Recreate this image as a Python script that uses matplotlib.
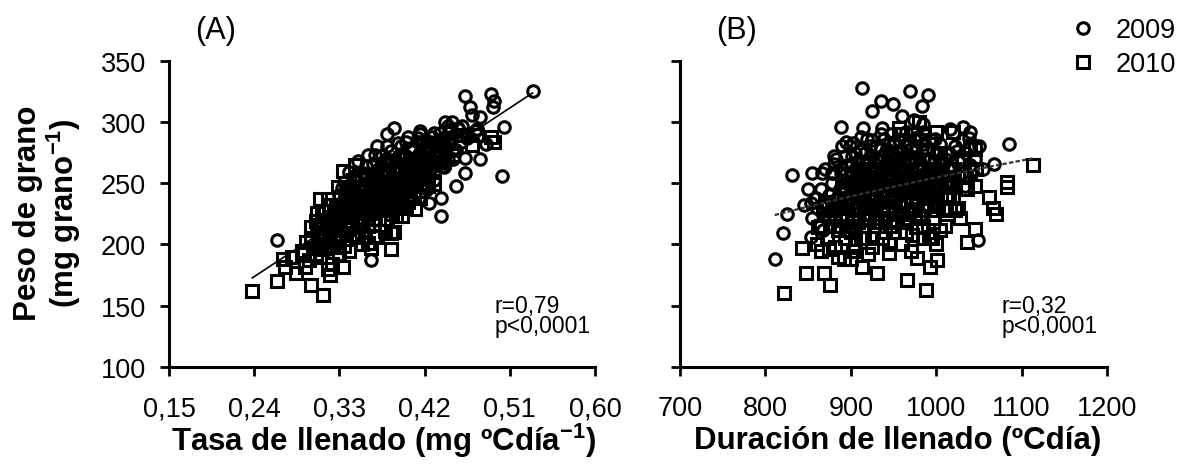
import numpy as np
import matplotlib
matplotlib.use('Agg')
import matplotlib.pyplot as plt

plt.rcParams['font.family'] = ['Liberation Sans', 'DejaVu Sans']
plt.rcParams['mathtext.fontset'] = 'custom'
plt.rcParams['mathtext.rm'] = 'Liberation Sans'
plt.rcParams['mathtext.bf'] = 'Liberation Sans:bold'

# (A) tasa de llenado (mg/ºCdía) vs peso de grano (mg)
tasa_peso_2009 = [
    (0.264, 204), (0.363, 187), (0.437, 223), (0.502, 256), (0.534, 325), (0.490, 323),
    (0.463, 321), (0.504, 296), (0.479, 304), (0.468, 312), (0.493, 317), (0.492, 312),
    (0.463, 271), (0.463, 258), (0.453, 248), (0.479, 270), (0.388, 295), (0.370, 280),
    (0.415, 293), (0.449, 300), (0.473, 293), (0.437, 238), (0.425, 234), (0.333, 246),
    (0.455, 295), (0.485, 282), (0.440, 285),
    (0.310, 205), (0.315, 220), (0.318, 196), (0.322, 212), (0.325, 227), (0.328, 204),
    (0.330, 240), (0.332, 225), (0.335, 237), (0.337, 216), (0.340, 248), (0.342, 230),
    (0.344, 207), (0.346, 240), (0.348, 257), (0.350, 222), (0.352, 236), (0.354, 248),
    (0.356, 211), (0.358, 264), (0.360, 229), (0.362, 244), (0.364, 256), (0.366, 220),
    (0.368, 273), (0.370, 238), (0.372, 252), (0.374, 264), (0.376, 228), (0.378, 245),
    (0.380, 280), (0.382, 258), (0.384, 240), (0.386, 269), (0.388, 230), (0.390, 251),
    (0.392, 283), (0.394, 261), (0.396, 244), (0.398, 273), (0.400, 255), (0.402, 288),
    (0.404, 236), (0.406, 267), (0.408, 278), (0.410, 249), (0.412, 262), (0.414, 274),
    (0.416, 284), (0.418, 255), (0.420, 269), (0.422, 245), (0.424, 281), (0.426, 262),
    (0.428, 288), (0.430, 259), (0.432, 281), (0.434, 271), (0.436, 291), (0.438, 264),
    (0.440, 279), (0.442, 300), (0.445, 269), (0.448, 287), (0.450, 278), (0.455, 294),
    (0.458, 284), (0.460, 297), (0.465, 287), (0.470, 306), (0.475, 294),
    (0.315, 206), (0.320, 223), (0.325, 199), (0.330, 216), (0.335, 251), (0.340, 218),
    (0.345, 231), (0.350, 245), (0.355, 228), (0.355, 258), (0.360, 221), (0.360, 251),
    (0.365, 238), (0.365, 266), (0.370, 226), (0.370, 261), (0.375, 250), (0.375, 273),
    (0.380, 234), (0.380, 258), (0.385, 245), (0.385, 276), (0.390, 237), (0.390, 263),
    (0.395, 252), (0.395, 280), (0.400, 242), (0.400, 272), (0.405, 260), (0.410, 271),
    (0.410, 242), (0.415, 263), (0.420, 254), (0.420, 280), (0.425, 269), (0.430, 253),
    (0.430, 291), (0.435, 282), (0.440, 263), (0.445, 297), (0.450, 270), (0.360, 273),
    (0.350, 268), (0.340, 259), (0.380, 290), (0.400, 284), (0.415, 290),
    (0.343, 237), (0.347, 225), (0.353, 254), (0.357, 240), (0.363, 250), (0.367, 229),
    (0.373, 246), (0.377, 267), (0.383, 253), (0.387, 243), (0.393, 272), (0.397, 256),
    (0.403, 268), (0.407, 254), (0.413, 287), (0.417, 271), (0.423, 256), (0.427, 278),
    (0.433, 265), (0.437, 285), (0.443, 278), (0.447, 294), (0.453, 277), (0.457, 289),
    (0.322, 218), (0.326, 232), (0.331, 217), (0.336, 242), (0.341, 228), (0.346, 252),
    (0.351, 236), (0.356, 246), (0.361, 226), (0.366, 258), (0.371, 244), (0.376, 258),
    (0.381, 238), (0.386, 256), (0.391, 244), (0.396, 266), (0.401, 250), (0.406, 276),
    (0.411, 256), (0.416, 270), (0.421, 262), (0.426, 284), (0.431, 272), (0.436, 274),
    (0.441, 288), (0.446, 282), (0.369, 250), (0.379, 270), (0.389, 262), (0.399, 262),
    (0.409, 266), (0.419, 278),
]
tasa_peso_2010 = [
    (0.238, 162), (0.264, 170), (0.272, 182), (0.270, 188), (0.284, 177), (0.294, 182),
    (0.300, 167), (0.313, 159), (0.320, 175), (0.318, 180), (0.334, 182), (0.385, 196),
    (0.363, 197), (0.493, 284), (0.490, 288), (0.385, 209), (0.306, 226), (0.306, 216),
    (0.346, 265), (0.300, 204), (0.280, 190), (0.290, 195),
    (0.290, 192), (0.295, 202), (0.298, 187), (0.300, 214), (0.302, 197), (0.305, 219),
    (0.307, 204), (0.310, 190), (0.312, 227), (0.314, 210), (0.316, 197), (0.318, 237),
    (0.320, 217), (0.322, 184), (0.324, 204), (0.326, 232), (0.328, 247), (0.330, 192),
    (0.332, 230), (0.334, 260), (0.336, 215), (0.338, 245), (0.340, 195), (0.342, 225),
    (0.344, 253), (0.346, 208), (0.348, 236), (0.350, 246), (0.352, 218), (0.354, 200),
    (0.356, 233), (0.358, 256), (0.360, 215), (0.362, 242), (0.364, 228), (0.366, 207),
    (0.368, 252), (0.370, 237), (0.372, 221), (0.374, 260), (0.376, 243), (0.378, 211),
    (0.380, 232), (0.382, 266), (0.384, 248), (0.386, 225), (0.388, 210), (0.390, 258),
    (0.392, 239), (0.394, 271), (0.396, 223), (0.398, 251), (0.400, 263), (0.402, 235),
    (0.405, 277), (0.408, 248), (0.410, 229), (0.412, 266), (0.415, 244), (0.418, 281),
    (0.420, 258), (0.425, 270), (0.430, 259), (0.435, 275), (0.440, 267), (0.445, 284),
    (0.450, 273), (0.460, 289), (0.470, 281), (0.475, 289),
    (0.300, 205), (0.305, 192), (0.310, 214), (0.315, 227), (0.320, 199), (0.325, 212),
    (0.330, 227), (0.335, 199), (0.340, 213), (0.345, 244), (0.350, 206), (0.350, 228),
    (0.355, 247), (0.360, 201), (0.360, 236), (0.365, 216), (0.370, 249), (0.370, 206),
    (0.375, 232), (0.380, 221), (0.380, 248), (0.385, 236), (0.390, 223), (0.390, 251),
    (0.395, 241), (0.400, 230), (0.400, 254), (0.405, 245), (0.410, 260), (0.415, 238),
    (0.420, 250), (0.425, 261), (0.430, 249), (0.340, 230), (0.330, 207), (0.320, 232),
    (0.310, 237),
    (0.311, 196), (0.317, 217), (0.323, 198), (0.327, 214), (0.333, 208), (0.337, 234),
    (0.343, 219), (0.347, 231), (0.353, 216), (0.357, 244), (0.363, 231), (0.367, 217),
    (0.373, 246), (0.377, 228), (0.383, 241), (0.387, 259), (0.393, 232), (0.397, 254),
    (0.403, 248), (0.407, 268),
    (0.308, 198), (0.313, 220), (0.319, 207), (0.324, 222), (0.329, 198), (0.334, 224),
    (0.339, 240), (0.344, 232), (0.349, 218), (0.354, 238), (0.359, 226), (0.364, 246),
    (0.369, 228), (0.374, 238), (0.379, 252), (0.384, 232), (0.389, 248), (0.394, 238),
    (0.399, 262), (0.404, 255), (0.409, 240), (0.414, 268), (0.419, 262), (0.424, 248),
]

# (B) duración de llenado (ºCdía) vs peso de grano (mg)
dur_peso_2009 = [
    (913, 328), (969, 325), (991, 322), (935, 317), (925, 309), (950, 315), (960, 305),
    (983, 313), (974, 302), (888, 296), (914, 295), (937, 295), (895, 284), (831, 257),
    (855, 258), (866, 258), (879, 258), (880, 266), (825, 225), (821, 209), (811, 188),
    (853, 234), (859, 238), (854, 206), (1085, 282), (1068, 266), (1049, 204), (1032, 296),
    (1016, 294), (1038, 287), (1034, 248), (985, 298), (902, 272), (1013, 274),
    (865, 245), (870, 262), (872, 232), (878, 250), (880, 272), (884, 238), (888, 258),
    (890, 280), (893, 245), (896, 265), (898, 228), (900, 252), (903, 283), (905, 240),
    (908, 268), (910, 258), (912, 288), (914, 232), (917, 275), (920, 250), (922, 262),
    (925, 285), (927, 240), (930, 270), (932, 255), (935, 290), (937, 235), (940, 265),
    (942, 278), (945, 248), (947, 290), (950, 260), (952, 272), (955, 240), (957, 285),
    (960, 258), (962, 268), (965, 292), (967, 245), (970, 278), (972, 262), (975, 286),
    (977, 250), (980, 270), (982, 240), (985, 282), (987, 258), (990, 268), (992, 248),
    (995, 285), (997, 262), (1000, 275), (1003, 255), (1005, 282), (1008, 265), (1012, 250),
    (1015, 275), (1018, 262), (1022, 280), (1025, 268), (1030, 258), (1035, 275), (1040, 265),
    (1045, 270), (1055, 262), (880, 222), (895, 215), (910, 222), (930, 225), (950, 228),
    (970, 230), (990, 232), (1000, 238), (860, 230), (850, 245), (845, 232), (855, 222),
    (868, 212), (875, 240), (885, 228), (895, 250), (905, 262), (915, 245), (925, 258),
    (935, 248), (945, 268), (955, 255), (965, 262), (975, 238), (985, 250), (995, 255),
    (905, 275), (925, 272), (945, 282), (965, 280), (985, 292), (920, 225), (940, 235),
    (960, 240), (980, 255), (1000, 250), (1010, 270), (1020, 250), (890, 235), (870, 225),
    (935, 262), (955, 275), (975, 268), (930, 280), (915, 262), (950, 245), (1030, 285),
    (1040, 292), (1050, 280),
    (902, 258), (918, 268), (928, 252), (938, 272), (948, 262), (958, 250), (968, 270),
    (978, 262), (988, 278), (998, 268), (908, 248), (922, 280), (942, 255), (962, 285),
    (982, 265), (1002, 262), (888, 262), (878, 258), (912, 238), (952, 268),
    (883, 270), (887, 245), (893, 272), (897, 238), (901, 266), (906, 250), (911, 276),
    (916, 240), (921, 268), (926, 248), (931, 262), (936, 278), (941, 244), (946, 256),
    (951, 284), (956, 264), (961, 248), (966, 274), (971, 256), (976, 280), (981, 246),
    (986, 270), (991, 258), (996, 276), (1001, 244), (1006, 270), (899, 280), (919, 286),
    (939, 286), (959, 276), (979, 288), (999, 286), (894, 258), (914, 252), (934, 240),
    (954, 252), (974, 246), (994, 242), (1014, 262), (1024, 276),
]
dur_peso_2010 = [
    (822, 160), (876, 167), (848, 177), (869, 177), (913, 182), (931, 177), (966, 171),
    (988, 163), (993, 182), (1001, 187), (977, 189), (843, 197), (862, 214), (1036, 202),
    (1045, 213), (1062, 239), (1067, 230), (1070, 225), (1083, 251), (1083, 247),
    (1113, 265), (1046, 278), (1047, 262), (1019, 247), (1022, 228), (1000, 292),
    (957, 295), (992, 206), (875, 196), (892, 188),
    (860, 200), (865, 215), (868, 230), (872, 205), (875, 222), (878, 240), (882, 198),
    (885, 212), (888, 230), (890, 248), (893, 205), (896, 220), (898, 238), (900, 255),
    (903, 195), (905, 212), (908, 228), (910, 245), (912, 262), (915, 205), (918, 222),
    (920, 238), (922, 255), (925, 198), (927, 215), (930, 232), (932, 250), (935, 268),
    (937, 205), (940, 222), (942, 240), (945, 258), (947, 275), (950, 210), (952, 228),
    (955, 245), (957, 262), (960, 200), (962, 218), (965, 235), (967, 252), (970, 270),
    (972, 208), (975, 225), (978, 242), (980, 260), (982, 285), (985, 215), (988, 232),
    (990, 250), (993, 268), (995, 205), (998, 222), (1000, 240), (1003, 258), (1005, 275),
    (1008, 230), (1010, 215), (1013, 248), (1016, 265), (1020, 238), (1025, 255),
    (1028, 222), (1032, 270), (1036, 245), (1040, 260),
    (880, 215), (890, 225), (900, 210), (910, 235), (920, 220), (930, 245), (940, 210),
    (950, 235), (960, 225), (970, 245), (980, 222), (990, 240), (1000, 228), (1010, 250),
    (870, 235), (895, 245), (915, 255), (935, 258), (955, 268), (975, 255), (995, 260),
    (1015, 240), (1025, 230), (1035, 255), (1045, 248), (905, 200), (925, 205), (945, 200),
    (965, 210), (985, 205), (1005, 212), (885, 190), (865, 195), (900, 188), (920, 192),
    (945, 193), (970, 195), (1000, 200), (1030, 268), (1040, 280), (1020, 292), (980, 300),
    (960, 290),
    (902, 225), (918, 232), (928, 222), (938, 240), (948, 248), (958, 232), (968, 222),
    (978, 235), (988, 245), (998, 235), (908, 218), (922, 245), (942, 228), (962, 258),
    (982, 250), (1002, 248), (888, 215), (878, 228), (912, 205), (952, 218),
    (883, 232), (887, 220), (893, 238), (897, 212), (901, 242), (906, 228), (911, 252),
    (916, 215), (921, 232), (926, 262), (931, 218), (936, 230), (941, 252), (946, 215),
    (951, 240), (956, 225), (961, 265), (966, 226), (971, 238), (976, 214), (981, 242),
    (986, 228), (991, 262), (996, 218), (1001, 232), (1006, 258), (1011, 240), (1016, 228),
    (1021, 262), (895, 232), (915, 242), (935, 218), (955, 258), (975, 270), (995, 248),
    (1015, 252), (925, 232), (945, 272), (965, 245), (985, 238),
]

years = ['2009', '2010']
a_xticks = [0.15, 0.24, 0.33, 0.42, 0.51, 0.60]
a_xticklabels = ['0,15', '0,24', '0,33', '0,42', '0,51', '0,60']
b_xticks = [700, 800, 900, 1000, 1100, 1200]
yticks = [100, 150, 200, 250, 300, 350]
stats_a = 'r=0,79\np<0,0001'
stats_b = 'r=0,32\np<0,0001'

fig = plt.figure(figsize=(11.78, 4.77), dpi=100)
ax_a = fig.add_axes([0.1435, 0.2285, 0.3616, 0.6421])
ax_b = fig.add_axes([0.5772, 0.2285, 0.3625, 0.6421])

mk = dict(linestyle='none', mfc='none', mec='black', ms=8.3, mew=2.2)


def draw_panel(ax, d09, d10, log_fit, fit_style):
    x09, y09 = np.array(d09, dtype=float).T
    x10, y10 = np.array(d10, dtype=float).T
    ax.plot(x09, y09, marker='o', label=years[0], **mk)
    ax.plot(x10, y10, marker='s', label=years[1], **mk)
    # trend line fitted on both years together
    xx = np.concatenate([x09, x10])
    yy = np.concatenate([y09, y10])
    xs = np.linspace(xx.min(), xx.max(), 100)
    if log_fit:
        coef = np.polyfit(np.log(xx), yy, 1)
        ys = np.polyval(coef, np.log(xs))
    else:
        coef = np.polyfit(xx, yy, 1)
        ys = np.polyval(coef, xs)
    ax.plot(xs, ys, **fit_style)
    for s in ['top', 'right']:
        ax.spines[s].set_visible(False)
    for s in ['left', 'bottom']:
        ax.spines[s].set_linewidth(2.2)
    ax.tick_params(direction='out', length=6.5, width=2.0, labelsize=19.5, colors='black')
    ax.tick_params(axis='x', pad=14)
    ax.tick_params(axis='y', pad=10)
    ax.set_ylim(100, 350)
    ax.set_yticks(yticks)


draw_panel(ax_a, tasa_peso_2009, tasa_peso_2010, False, dict(color='black', lw=1.2))
ax_a.set_xlim(0.15, 0.60)
ax_a.set_xticks(a_xticks)
ax_a.set_xticklabels(a_xticklabels)

draw_panel(ax_b, dur_peso_2009, dur_peso_2010, True,
           dict(color='#333333', lw=1.6, linestyle=(0, (2, 1))))
ax_b.set_xlim(700, 1200)
ax_b.set_xticks(b_xticks)
ax_b.set_yticklabels([])

ax_a.text(0.765, 0.168, stats_a, transform=ax_a.transAxes, fontsize=16.5,
          ha='left', va='center', linespacing=0.85)
ax_b.text(0.752, 0.168, stats_b, transform=ax_b.transAxes, fontsize=16.5,
          ha='left', va='center', linespacing=0.85)

fig.text(216 / 1178, 1 - 31 / 477, '(A)', fontsize=22, ha='center', va='center')
fig.text(737 / 1178, 1 - 31 / 477, '(B)', fontsize=22, ha='center', va='center')

fig.text(384 / 1178, 1 - 441 / 477, 'Tasa de llenado (mg ºCdía$^{\\mathbf{-1}}$)',
         fontsize=22.5, fontweight='bold', ha='center', va='center')
fig.text(898 / 1178, 1 - 441 / 477, 'Duración de llenado (ºCdía)',
         fontsize=22.5, fontweight='bold', ha='center', va='center')
fig.text(48 / 1178, 1 - 213 / 477, 'Peso de grano\n(mg grano$^{\\mathbf{-1}}$)',
         fontsize=22.5, fontweight='bold', ha='center', va='center', rotation=90,
         multialignment='center', linespacing=1.05)

handles, labels = ax_b.get_legend_handles_labels()
fig.legend(handles[:2], labels[:2], loc='upper left', bbox_to_anchor=(1075 / 1178, 1 - 18 / 477),
           frameon=False, fontsize=19.5, borderpad=0, borderaxespad=0, handlelength=0.6,
           handletextpad=0.9, labelspacing=0.3)

fig.savefig('out.png', dpi=100)
